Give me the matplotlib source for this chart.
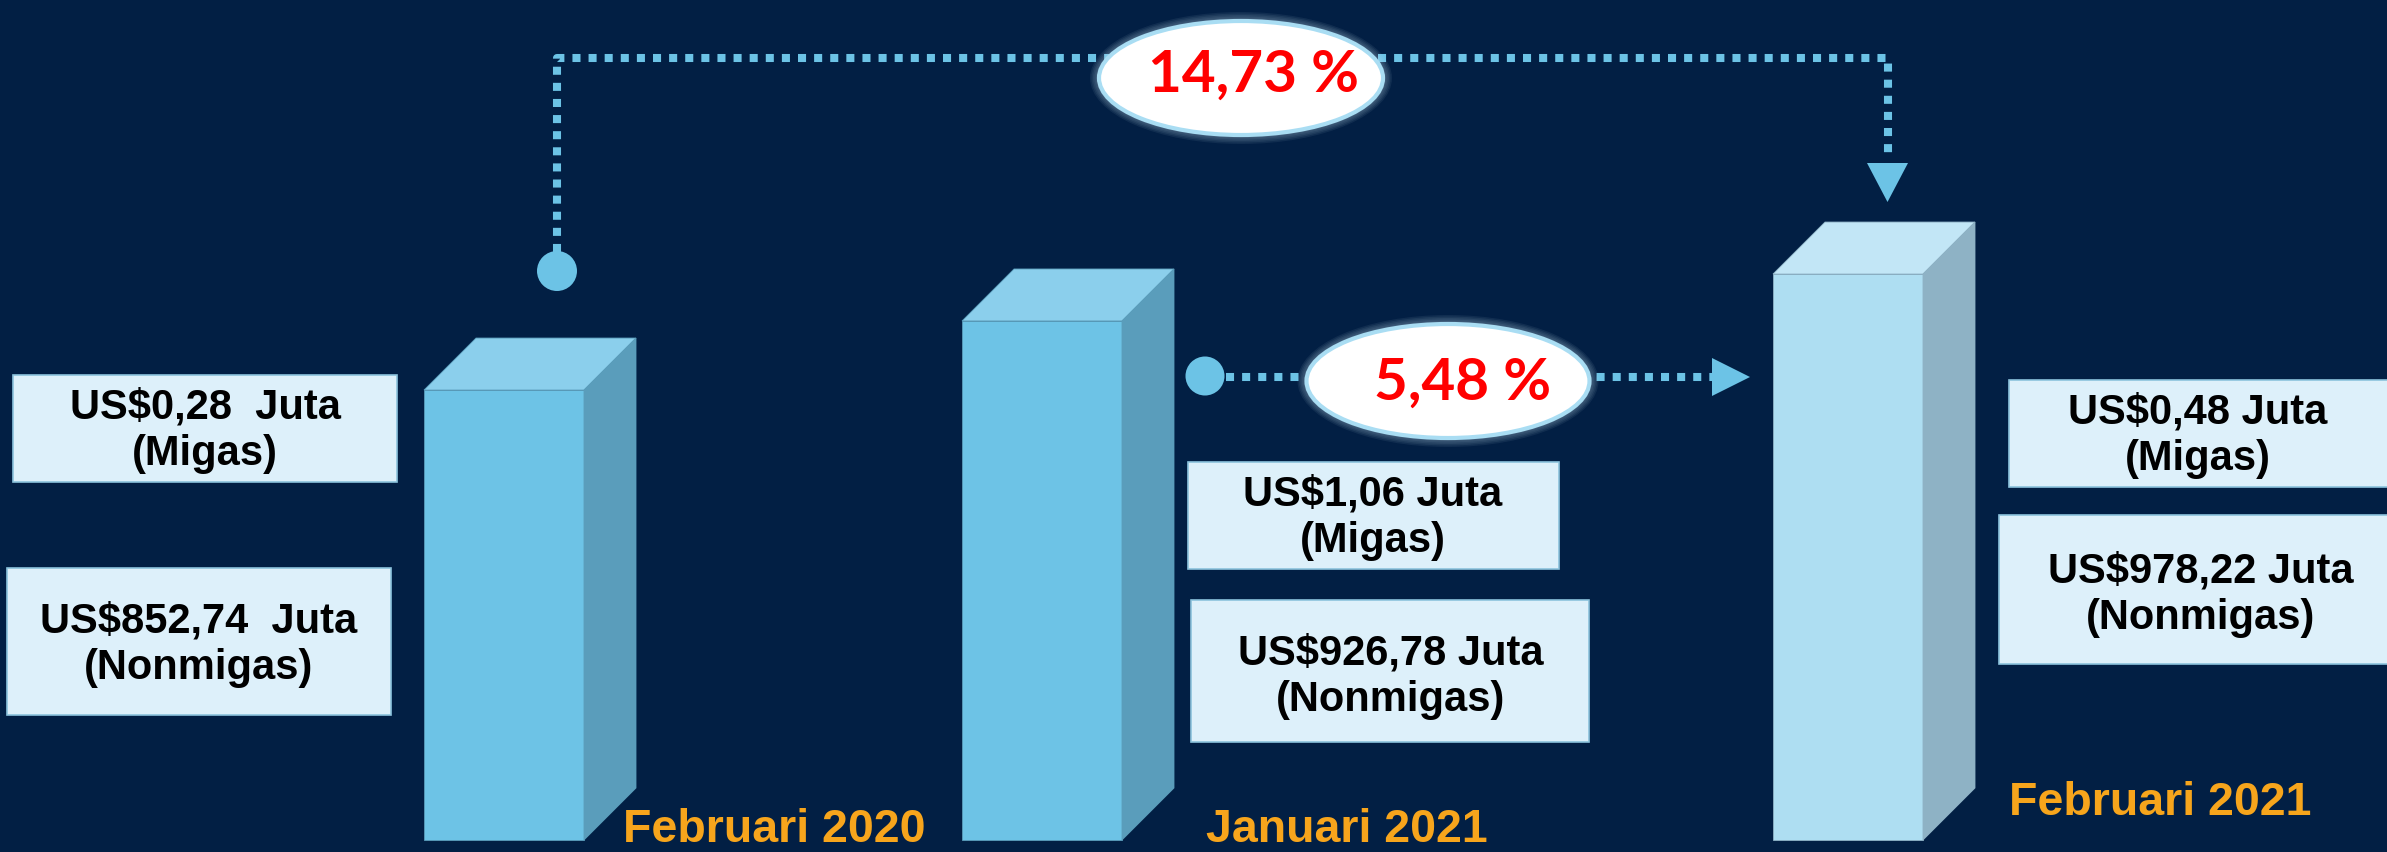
import matplotlib.pyplot as plt
from matplotlib.patches import Ellipse, Rectangle, Polygon, Circle

# data
periods = ['Februari 2020', 'Januari 2021', 'Februari 2021']
migas = [0.28, 1.06, 0.48]
nonmigas = [852.74, 926.78, 978.22]
migas_labels = ['US$0,28  Juta', 'US$1,06 Juta', 'US$0,48 Juta']
nonmigas_labels = ['US$852,74  Juta', 'US$926,78 Juta', 'US$978,22 Juta']
growth_labels = ['14,73 %', '5,48 %']   # yoy (Feb20 -> Feb21), mtm (Jan21 -> Feb21)

totals = [m + n for m, n in zip(migas, nonmigas)]

# layout (pixels, figure is 2387 x 852)
W, H = 2387, 852
bg = '#021f44'
bar_left = [424, 962, 1773]
bar_width = [160, 160, 150]
depth = 52
y_floor, y_top = 352.5, 1275.6      # value range shown by the bar axes
bar_base = 365.5

front_c = ['#6dc3e6', '#6dc3e6', '#aedef2']
top_c = ['#8bcfec', '#8bcfec', '#c2e6f6']
side_c = ['#5a9dbb', '#5a9dbb', '#8eb2c5']
line_c = '#6cc3e6'
box_face = '#ddf0fa'
box_edge = '#8cc3dd'
orange = '#f7a51c'

fig = plt.figure(figsize=(W / 100, H / 100), dpi=100, facecolor=bg)

# bars axes: x in pixels, y in values
ax = fig.add_axes([0, 0, 1, 1])
ax.set_xlim(0, W)
ax.set_ylim(y_floor, y_top)
ax.axis('off')
ax.set_facecolor(bg)

dy = depth * (y_top - y_floor) / H
for i, t in enumerate(totals):
    x0, w = bar_left[i], bar_width[i]
    ax.bar(x0, t - bar_base, bottom=bar_base, width=w, align='edge',
           color=front_c[i], edgecolor=side_c[i], linewidth=0.6, zorder=2)
    top = Polygon([(x0, t), (x0 + depth, t + dy), (x0 + w + depth, t + dy), (x0 + w, t)],
                  closed=True, facecolor=top_c[i], edgecolor=side_c[i], lw=0.6, zorder=2)
    side = Polygon([(x0 + w, t), (x0 + w + depth, t + dy),
                    (x0 + w + depth, bar_base + dy), (x0 + w, bar_base)],
                   closed=True, facecolor=side_c[i], edgecolor=side_c[i], lw=0.6, zorder=2)
    ax.add_patch(top)
    ax.add_patch(side)

# overlay axes in pixel coordinates (y down) for labels and arrows
ov = fig.add_axes([0, 0, 1, 1])
ov.set_xlim(0, W)
ov.set_ylim(H, 0)
ov.axis('off')
ov.patch.set_alpha(0)

# value boxes
box_specs = [
    # (x0, y0, x1, y1, text x, text y)
    (13, 375, 397, 482, 205, 431),
    (1188, 462, 1559, 569, 1373, 518),
    (2009, 380, 2400, 487, 2198, 436),
]
nbox_specs = [
    (7, 568, 391, 715, 199, 645),
    (1191, 600, 1589, 742, 1391, 677),
    (1999, 515, 2400, 664, 2201, 595),
]
txt_font = dict(family=['Liberation Sans', 'DejaVu Sans'], fontweight='bold',
                fontsize=30, color='black', ha='center', va='center', linespacing=1.2)
for specs, labels, kind in [(box_specs, migas_labels, 'Migas'),
                            (nbox_specs, nonmigas_labels, 'Nonmigas')]:
    for (x0, y0, x1, y1, tx, ty), lab in zip(specs, labels):
        ov.add_patch(Rectangle((x0, y0), x1 - x0, y1 - y0, facecolor=box_face,
                               edgecolor=box_edge, lw=1.2, zorder=3))
        ov.text(tx, ty, f'{lab}\n({kind})', zorder=4, **txt_font)

# period labels
lab_pos = [(623, 842), (1206, 842), (2009, 815)]
for (lx, ly), p in zip(lab_pos, periods):
    ov.text(lx, ly, p, color=orange, fontsize=33.5, fontweight='bold',
            family=['Liberation Sans', 'DejaVu Sans'],
            ha='left', va='baseline', zorder=4)

# dotted connectors
dot_kw = dict(color=line_c, lw=5.8, linestyle=(0, (1, 1)), dash_capstyle='butt', zorder=3)
ov.plot([557, 557, 1888, 1888], [252, 58, 58, 160], **dot_kw)
ov.plot([1226, 1712], [377, 377], **dot_kw)
ov.add_patch(Circle((557, 271), 20, facecolor=line_c, edgecolor='none', zorder=4))
ov.add_patch(Circle((1205, 376), 19.5, facecolor=line_c, edgecolor='none', zorder=4))
ov.add_patch(Polygon([(1867, 163), (1908, 163), (1887.5, 202)], closed=True,
                     facecolor=line_c, edgecolor='none', zorder=4))
ov.add_patch(Polygon([(1712, 358), (1712, 396), (1750, 377)], closed=True,
                     facecolor=line_c, edgecolor='none', zorder=4))

# growth ellipses
ell_specs = [(1241, 78, 284, 114, 1253, 92), (1448, 381, 283, 114, 1463, 400)]
for (cx, cy, ew, eh, tx, ty), g in zip(ell_specs, growth_labels):
    for k in range(6, 0, -1):
        ov.add_patch(Ellipse((cx, cy), ew + 3 * k, eh + 3 * k, facecolor='#cfe9f7',
                             edgecolor='none', alpha=0.07, zorder=5))
    ov.add_patch(Ellipse((cx, cy), ew, eh, facecolor='white', edgecolor='#a9ddf3',
                         lw=3, zorder=6))
    ov.text(tx, ty, g, color='#ff0000', fontsize=42, fontweight='bold',
            family=['Lato', 'DejaVu Sans'], ha='center', va='baseline', zorder=7)

fig.savefig('out.png', dpi=100, facecolor=bg)
